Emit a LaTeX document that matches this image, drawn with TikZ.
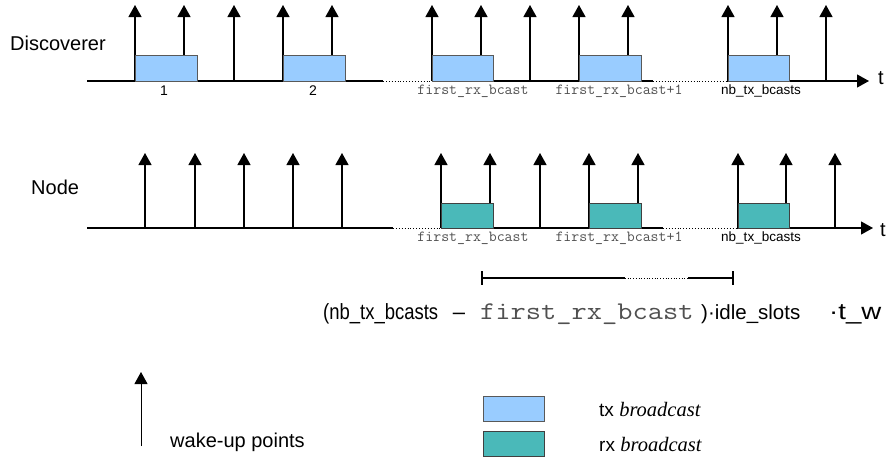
\documentclass[tikz,border=0pt]{standalone}
\usepackage{fontspec}
\setmainfont{Liberation Sans}
\newfontfamily\serifit{Liberation Serif}
\usetikzlibrary{arrows.meta}

\definecolor{txblue}{HTML}{99CCFF}
\definecolor{rxteal}{HTML}{4AB9B9}
\definecolor{labgray}{HTML}{505050}

\tikzset{
  wake/.style={-{Triangle[width=13pt,length=12pt]}, line width=1.2pt},
  axis/.style={line width=1.2pt},
  gap/.style={dotted, line width=0.9pt},
  txslot/.style={fill=txblue, draw=black!65, line width=1pt},
  rxslot/.style={fill=rxteal, draw=black!75, line width=1pt},
  rowname/.style={font=\fontsize{20}{24}\selectfont, inner sep=0pt},
  monolab/.style={font=\ttfamily\fontsize{15.4}{18}\selectfont, text=labgray, inner sep=0pt},
  sanslab/.style={font=\fontsize{13.5}{16}\selectfont, inner sep=0pt},
  formula/.style={font=\fontsize{22}{26}\selectfont, inner sep=0pt}
}

\begin{document}
\begin{tikzpicture}[x=1pt,y=-1pt]
  \useasboundingbox (0,0) rectangle (887,458);

  % Discoverer timeline
  \node[rowname, anchor=west] (disc) at (10,43) {Discoverer};
  \foreach \x in {135,184,234,283,332,432,481,530,579,628,728,777,826}
    \draw[wake] (\x,81) -- (\x,5);
  \coordinate (d0) at (87,81);
  \coordinate (d1) at (383,81);
  \coordinate (d2) at (432,81);
  \coordinate (d3) at (653,81);
  \coordinate (d4) at (727,81);
  \coordinate (dend) at (869,81);
  \draw[axis] (d0) -- (d1);
  \draw[gap] (d1) -- (d2);
  \draw[axis] (d2) -- (d3);
  \draw[gap] (d3) -- (d4);
  \draw[axis, -{Triangle[width=13pt,length=12pt]}] (d4) -- (dend);
  \node[rowname, anchor=west] (dt) at (878,78) {t};
  \foreach \a/\b in {135/197,283/345,432/493,579/641,728/789}
    \draw[txslot] (\a,55) rectangle (\b,81);
  \node[sanslab, font=\fontsize{14}{16}\selectfont] (d1lab) at (164,91) {1};
  \node[sanslab, font=\fontsize{14}{16}\selectfont] (d2lab) at (313,91) {2};
  \node[monolab] (dfirst) at (473,91) {first\_rx\_bcast};
  \node[monolab] (dnext) at (619,91) {first\_rx\_bcast+1};
  \node[sanslab] (dlast) at (761,91) {nb\_tx\_bcasts};

  % Node timeline
  \node[rowname, anchor=west] (node) at (31,187) {Node};
  \foreach \x in {145,195,244,293,342,441,490,540,589,638,738,786,835}
    \draw[wake] (\x,228) -- (\x,153);
  \coordinate (n0) at (87,228);
  \coordinate (n1) at (393,228);
  \coordinate (n2) at (441,228);
  \coordinate (n3) at (663,228);
  \coordinate (n4) at (737,228);
  \coordinate (nend) at (873,228);
  \draw[axis] (n0) -- (n1);
  \draw[gap] (n1) -- (n2);
  \draw[axis] (n2) -- (n3);
  \draw[gap] (n3) -- (n4);
  \draw[axis, -{Triangle[width=13pt,length=12pt]}] (n4) -- (nend);
  \node[rowname, anchor=west] (nt) at (880,230) {t};
  \foreach \a/\b in {441/493,589/641,738/789}
    \draw[rxslot] (\a,203) rectangle (\b,228);
  \node[monolab] (nfirst) at (473,238) {first\_rx\_bcast};
  \node[monolab] (nnext) at (619,238) {first\_rx\_bcast+1};
  \node[sanslab] (nlast) at (761,238) {nb\_tx\_bcasts};

  % listening span
  \coordinate (s0) at (482,278);
  \coordinate (s1) at (625,278);
  \coordinate (s2) at (688,278);
  \coordinate (s3) at (733,278);
  \draw[line width=1.1pt] (s0) -- (s1);
  \draw[gap, line width=0.7pt] (s1) -- (s2);
  \draw[line width=1.1pt] (s2) -- (s3);
  \draw[line width=1.1pt] (482,271) -- (482,285);
  \draw[line width=1.1pt] (733,271) -- (733,285);

  % duration formula
  \node[formula, xscale=0.84, transform shape, anchor=base west] (fa) at (323,319) {(nb\_tx\_bcasts};
  \node[formula, anchor=base] (fb) at (459,319) {--};
  \node[font=\ttfamily\fontsize{25.5}{30}\selectfont, text=labgray, inner sep=0pt, xscale=1.16, transform shape, anchor=base west] (fc) at (480,319) {first\_rx\_bcast};
  \node[formula, font=\fontsize{20.5}{24}\selectfont, anchor=base west] (fd) at (701,319) {)\textperiodcentered idle\_slots};
  \node[formula, font=\fontsize{23}{27}\selectfont, xscale=1.2, transform shape, anchor=base west] (fe) at (829,319) {\textperiodcentered t\_w};

  % legend
  \coordinate (wbot) at (141,446);
  \draw[wake, line width=1pt] (wbot) -- (141,372);
  \node[rowname, anchor=west] (wlab) at (170,442) {wake-up points};
  \draw[txslot] (483,396) rectangle (544,421);
  \draw[rxslot] (483,431) rectangle (544,456);
  \node[anchor=west, inner sep=0pt, font=\fontsize{19}{23}\selectfont] (txlab) at (599,409) {tx {\serifit\itshape\fontsize{20.5}{24}\selectfont broadcast}};
  \node[anchor=west, inner sep=0pt, font=\fontsize{19}{23}\selectfont] (rxlab) at (599,444) {rx {\serifit\itshape\fontsize{20.5}{24}\selectfont broadcast}};
\end{tikzpicture}
\end{document}
